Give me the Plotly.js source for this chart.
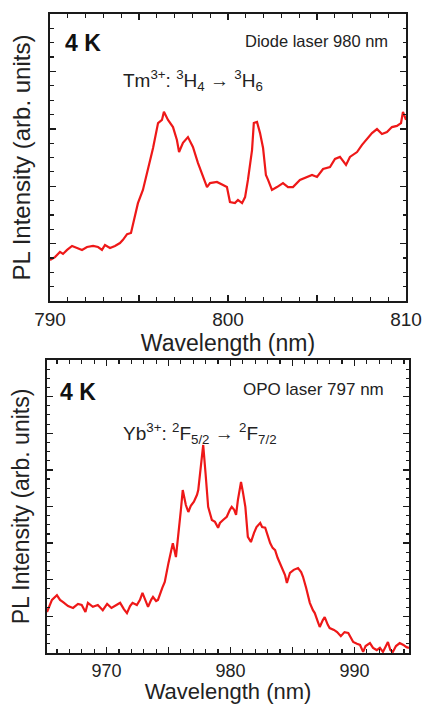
<!DOCTYPE html>
<html>
<head>
<meta charset="utf-8">
<script src="https://cdn.plot.ly/plotly-3.0.1.min.js"></script>
<style>html,body{margin:0;padding:0;background:#fff;}#chart{width:424px;height:704px;}</style>
</head>
<body>
<div id="chart"></div>
<script>
// Top panel: Tm3+ emission (diode laser 980 nm)
const tmWavelength = [790.0,790.28,790.56,790.73,790.96,791.24,791.52,791.8,792.08,792.42,792.7,792.92,793.09,793.37,793.65,793.93,794.1,794.33,794.55,794.72,794.94,795.22,795.5,795.79,796.07,796.29,796.4,796.63,796.91,797.13,797.25,797.47,797.75,798.03,798.31,798.6,798.82,798.99,799.38,799.72,799.94,800.11,800.39,800.56,800.79,800.96,801.12,801.35,801.45,801.63,801.8,801.97,802.13,802.25,802.47,802.75,803.09,803.37,803.65,804.04,804.44,804.72,805.0,805.34,805.73,806.01,806.29,806.63,806.85,807.25,807.53,807.81,808.09,808.37,808.65,808.93,809.21,809.49,809.72,809.83,810.0];
const tmIntensity = [1.43,1.53,1.71,1.64,1.78,1.92,1.85,1.78,1.88,1.92,1.88,1.78,1.95,1.85,1.92,2.02,2.13,2.33,2.37,2.82,3.41,3.87,4.56,5.33,6.20,6.31,6.59,6.31,6.06,5.61,5.19,5.51,5.71,5.37,4.81,4.32,3.97,4.11,4.15,4.04,3.97,3.45,3.41,3.52,3.41,3.62,4.22,5.26,6.20,6.24,5.85,5.33,4.39,4.22,3.87,3.97,4.11,3.97,3.97,4.22,4.32,4.39,4.32,4.60,4.67,4.95,5.02,4.74,5.02,5.19,5.44,5.64,5.85,5.99,5.82,5.89,6.06,6.10,6.20,6.59,6.31];

// Bottom panel: Yb3+ emission (OPO laser 797 nm)
const ybWavelength = [965.2,965.6,966.0,966.25,966.5,966.9,967.3,967.7,968.0,968.3,968.5,968.9,969.3,969.7,970.05,970.4,970.8,971.1,971.4,971.65,971.9,972.1,972.45,972.7,972.9,973.2,973.35,973.6,973.75,974.0,974.15,974.5,974.7,975.0,975.2,975.35,975.6,975.85,976.0,976.15,976.4,976.6,976.8,977.05,977.3,977.4,977.6,977.8,978.0,978.2,978.5,978.75,979.0,979.15,979.4,979.7,979.95,980.1,980.3,980.45,980.6,980.85,981.0,981.2,981.4,981.65,981.9,982.1,982.4,982.55,982.8,983.0,983.2,983.4,983.6,983.8,984.15,984.4,984.55,984.8,985.1,985.45,985.7,985.85,986.1,986.4,986.65,986.8,987.05,987.2,987.45,987.6,987.85,988.0,988.35,988.6,988.9,989.2,989.5,989.7,989.9,990.2,990.45,990.7,990.9,991.25,991.5,991.8,992.05,992.3,992.5,992.7,992.9,993.1,993.35,993.65,993.95,994.2,994.4];
const ybIntensity = [1.12,1.45,1.58,1.45,1.39,1.28,1.23,1.34,1.31,1.12,1.37,1.26,1.31,1.17,1.34,1.23,1.31,1.37,1.20,1.09,1.28,1.37,1.31,1.45,1.64,1.37,1.26,1.45,1.53,1.42,1.45,1.78,1.94,2.46,2.81,3.00,2.62,3.36,3.91,4.45,4.04,3.85,4.02,4.13,4.32,4.45,5.14,5.68,4.86,3.99,3.63,3.58,3.42,3.55,3.63,3.72,3.91,3.99,3.91,3.77,4.18,4.67,4.40,3.99,3.17,3.03,3.28,3.44,3.55,3.44,3.42,3.22,3.00,2.87,2.81,2.60,2.35,2.13,1.91,2.19,2.27,2.32,2.21,2.08,1.78,1.37,1.17,1.09,0.85,0.71,0.90,0.98,0.77,0.68,0.63,0.57,0.46,0.57,0.55,0.41,0.30,0.25,0.22,0.03,0.19,0.27,0.14,0.08,0.14,0.03,0.19,0.30,0.08,0.03,0.19,0.27,0.22,0.16,0.14];

const topTickVals = [790,795,800,805,810];
const topTickText = ['790','','800','','810'];
const botTickVals = [965,970,975,980,985,990];
const botTickText = ['','970','','980','','990'];

const W = 424, H = 704;
const M = {l:47, r:15, t:14, b:51};
const pw = W - M.l - M.r, ph = H - M.t - M.b;
const px = x => (x - M.l) / pw;
const py = y => (H - M.b - y) / ph;

const red = 'rgb(238,24,24)';
const ink = '#1a1a1a';
const FONT = 'Liberation Sans, Arial, sans-serif';

const traces = [
  {x: tmWavelength, y: tmIntensity, xaxis:'x', yaxis:'y', mode:'lines', line:{color:red, width:2.2}, hoverinfo:'skip'},
  {x: ybWavelength, y: ybIntensity, xaxis:'x2', yaxis:'y2', mode:'lines', line:{color:red, width:2.2}, hoverinfo:'skip'}
];

const axBase = {
  showline:true, linecolor:ink, linewidth:2, mirror:'ticks',
  ticks:'inside', ticklen:6, tickwidth:1.4, tickcolor:ink,
  showgrid:false, zeroline:false, fixedrange:true
};

const layout = {
  width: W, height: H,
  margin: M,
  paper_bgcolor:'#fff', plot_bgcolor:'#fff',
  showlegend:false,
  font:{family:FONT, color:ink},
  xaxis: Object.assign({}, axBase, {
    domain:[px(50), px(406)], anchor:'y', range:[790,810],
    tickmode:'array', tickvals: topTickVals, ticktext: topTickText,
    tickfont:{size:19, color:'#222'},
    minor:{tickmode:'linear', tick0:790, dtick:1, ticks:'inside', ticklen:4, tickwidth:1.2, tickcolor:ink},
    title:{text:'Wavelength (nm)', font:{size:23, color:'#222'}, standoff:1}
  }),
  yaxis: Object.assign({}, axBase, {
    domain:[py(301), py(14)], anchor:'x', range:[0,10],
    tickmode:'linear', tick0:0, dtick:2, showticklabels:false,
    minor:{tickmode:'linear', tick0:0, dtick:0.5, ticks:'inside', ticklen:3.5, tickwidth:1.2, tickcolor:ink},
    title:{text:'PL Intensity (arb. units)', font:{size:24, color:'#222'}, standoff:11}
  }),
  xaxis2: Object.assign({}, axBase, {
    domain:[0,1], anchor:'y2', range:[965.2,994.4],
    tickmode:'array', tickvals: botTickVals, ticktext: botTickText,
    tickfont:{size:18, color:'#222'},
    minor:{tickmode:'linear', tick0:965, dtick:1, ticks:'inside', ticklen:4, tickwidth:1.2, tickcolor:ink},
    title:{text:'Wavelength (nm)', font:{size:22, color:'#222'}, standoff:3}
  }),
  yaxis2: Object.assign({}, axBase, {
    domain:[0, py(360)], anchor:'x2', range:[0,8],
    tickmode:'linear', tick0:0, dtick:1, showticklabels:false,
    minor:{tickmode:'linear', tick0:0, dtick:0.25, ticks:'inside', ticklen:3, tickwidth:1.1, tickcolor:ink},
    title:{text:'PL Intensity (arb. units)', font:{size:23, color:'#222'}, standoff:9}
  }),
  annotations: [
    {xref:'paper', yref:'paper', x:px(63), y:py(43), xanchor:'left', yanchor:'middle', showarrow:false,
     text:'<b>4 K</b>', font:{size:23, color:'#111'}},
    {xref:'paper', yref:'paper', x:px(390), y:py(41), xanchor:'right', yanchor:'middle', showarrow:false,
     text:'Diode laser 980 nm', font:{size:16.5, color:'#222'}},
    {xref:'paper', yref:'paper', x:px(121), y:py(80), xanchor:'left', yanchor:'middle', showarrow:false,
     text:'Tm<sup>3+</sup>: <sup>3</sup>H<sub>4</sub> → <sup>3</sup>H<sub>6</sub>', font:{size:19, color:'#222'}},
    {xref:'paper', yref:'paper', x:px(58), y:py(392), xanchor:'left', yanchor:'middle', showarrow:false,
     text:'<b>4 K</b>', font:{size:23, color:'#111'}},
    {xref:'paper', yref:'paper', x:px(386), y:py(389), xanchor:'right', yanchor:'middle', showarrow:false,
     text:'OPO laser 797 nm', font:{size:17, color:'#222'}},
    {xref:'paper', yref:'paper', x:px(121), y:py(433), xanchor:'left', yanchor:'middle', showarrow:false,
     text:'Yb<sup>3+</sup>: <sup>2</sup>F<sub>5/2</sub> → <sup>2</sup>F<sub>7/2</sub>', font:{size:19, color:'#222'}}
  ]
};

Plotly.newPlot('chart', traces, layout, {staticPlot:true, displayModeBar:false});
</script>
</body>
</html>
